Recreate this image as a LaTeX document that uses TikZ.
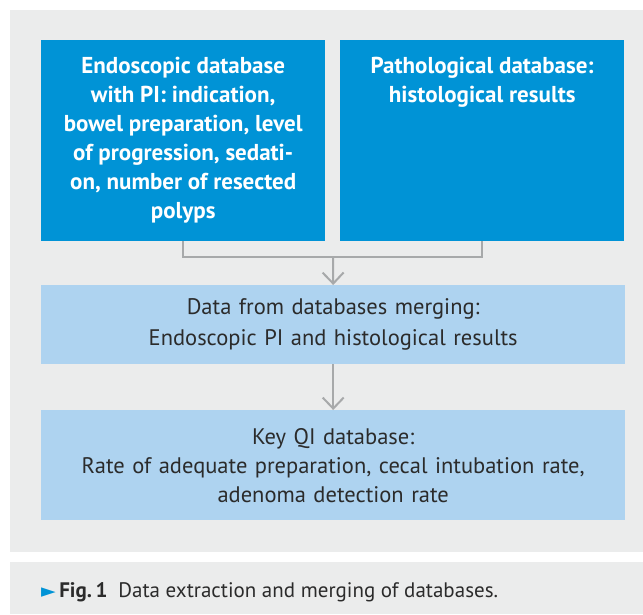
\documentclass[tikz,border=0pt]{standalone}
\usepackage{fontspec}
\setmainfont{PT Sans}
\newfontfamily\symfont{DejaVu Sans}
\usetikzlibrary{arrows.meta}

\definecolor{qiblue}{HTML}{0093D6}
\definecolor{qilight}{HTML}{AED3F0}
\definecolor{qigray}{HTML}{EBECEC}
\definecolor{qiline}{HTML}{A7A9AA}
\definecolor{qitext}{HTML}{2B2B2B}

% Text im oberen Kasten: oben ausgerichtet
\newcommand{\dbtext}[1]{\parbox[c][201pt][t]{280pt}{\centering\rule{0pt}{33pt}#1}}

\tikzset{
  dbbox/.style={fill=qiblue, text=white, font=\bfseries\fontsize{23}{29}\selectfont,
    inner sep=0pt, minimum width=284pt, minimum height=201pt, anchor=north west},
  mergebox/.style={fill=qilight, text=qitext, align=center, text width=570pt,
    inner xsep=7pt, inner ysep=0pt, minimum width=584pt, anchor=north west},
  flow/.style={draw=qiline, line width=2pt},
  flowarrow/.style={flow, -{Straight Barb[length=11pt, width=21pt, line width=2pt]}}
}

\begin{document}
\begin{tikzpicture}[x=1pt, y=-1pt]
  \useasboundingbox (0,0) rectangle (643,614);

  % Hintergrund
  \fill[qigray] (10,10) rectangle (643,552);
  \fill[qigray] (10,562) rectangle (643,614);

  % Datenbanken
  \node[dbbox] (endo) at (41,40) {\dbtext{Endoscopic database\\ with PI: indication,\\
    bowel preparation, level\\ of progression, sedati-\\ on, number of resected\\ polyps}};
  \node[dbbox] (patho) at (340,40) {\dbtext{Pathological database:\\ histological results}};

  \node[mergebox, minimum height=79pt, font=\fontsize{22.5}{31}\selectfont] (merge) at (41,285)
    {Data from databases merging:\\ Endoscopic PI and histological results};
  \node[mergebox, minimum height=110pt, font=\fontsize{22.5}{29}\selectfont] (keyqi) at (41,410)
    {Key QI database:\\ Rate of adequate preparation, cecal intubation rate,\\ adenoma detection rate};

  % Pfeile
  \coordinate (join) at (333,257);
  \draw[flow] (endo.south) |- (join) -| (patho.south);
  \draw[flowarrow] (join) -- (merge.north);
  \draw[flowarrow] (merge.south) -- (keyqi.north);

  % Legende
  \node[anchor=base west, inner sep=0pt, text=qitext, font=\fontsize{21}{24}\selectfont] (caption) at (41,597)
    {{\symfont\fontsize{19}{19}\selectfont\textcolor{qiblue}{►}}\,\textbf{Fig.\,1}\hspace{11pt}Data extraction and merging of databases.};
\end{tikzpicture}
\end{document}
